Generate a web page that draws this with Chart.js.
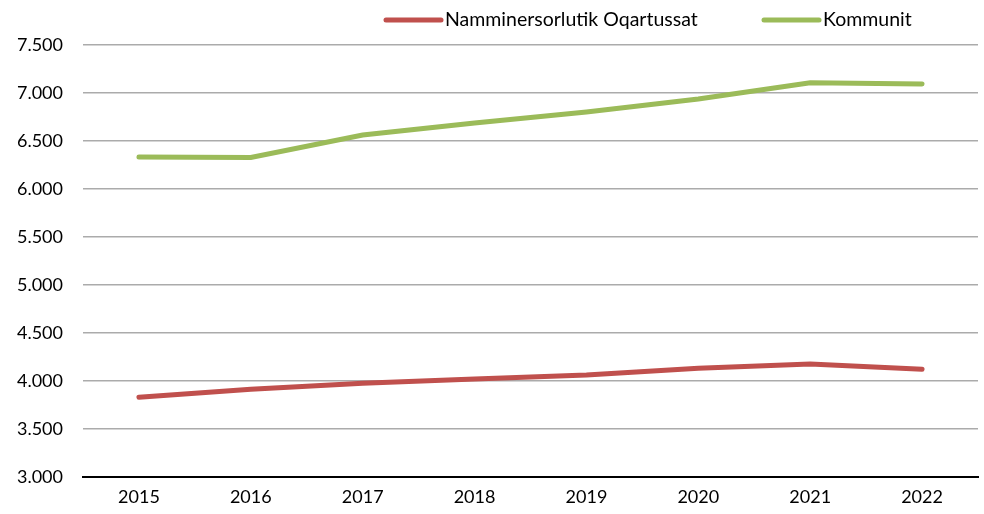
<!DOCTYPE html>
<html>
<head>
<meta charset="utf-8">
<script src="https://cdn.jsdelivr.net/npm/chart.js@4"></script>
<style>
  body { margin: 0; background: #fff; }
</style>
</head>
<body>
<canvas id="lineChart" width="984" height="514"></canvas>
<script>
const years = ['2015', '2016', '2017', '2018', '2019', '2020', '2021', '2022'];
const selvstyre = [3830, 3914, 3976, 4021, 4062, 4132, 4177, 4122];
const kommunit = [6333, 6328, 6563, 6688, 6802, 6937, 7107, 7094];
const seriesNames = ['Namminersorlutik Oqartussat', 'Kommunit'];

const FONT = 'Lato, "Open Sans", sans-serif';

// legend drawn by hand so the marker sits right against the text
const lineLegend = {
    id: 'lineLegend',
    afterDraw(chart) {
        const ctx = chart.ctx;
        const items = [
            { x: 386, ds: chart.data.datasets[0] },
            { x: 764, ds: chart.data.datasets[1] }
        ];
        ctx.save();
        ctx.font = '19.5px ' + FONT;
        ctx.textBaseline = 'middle';
        ctx.fillStyle = '#000';
        items.forEach(item => {
            ctx.strokeStyle = item.ds.borderColor;
            ctx.lineWidth = 5;
            ctx.lineCap = 'round';
            ctx.beginPath();
            ctx.moveTo(item.x, 20);
            ctx.lineTo(item.x + 55, 20);
            ctx.stroke();
            ctx.fillText(item.ds.label, item.x + 59, 20);
        });
        ctx.restore();
    }
};

const ctx = document.getElementById('lineChart').getContext('2d');
new Chart(ctx, {
    type: 'line',
    data: {
        labels: years,
        datasets: [{
            label: seriesNames[0],
            data: selvstyre,
            borderColor: '#C0504D',
            backgroundColor: '#C0504D',
            borderWidth: 5,
            borderCapStyle: 'round',
            pointRadius: 0,
            tension: 0
        }, {
            label: seriesNames[1],
            data: kommunit,
            borderColor: '#9BBB59',
            backgroundColor: '#9BBB59',
            borderWidth: 5,
            borderCapStyle: 'round',
            pointRadius: 0,
            tension: 0
        }]
    },
    options: {
        responsive: false,
        animation: false,
        layout: {
            padding: { top: 45, right: 6, left: 0, bottom: 0 }
        },
        scales: {
            x: {
                offset: true,
                grid: { display: false, drawTicks: false },
                border: { color: '#000', width: 2 },
                ticks: {
                    color: '#000',
                    font: { family: FONT, size: 18 },
                    padding: 9,
                    maxRotation: 0
                },
                afterFit: scale => { scale.height = 37; }
            },
            y: {
                min: 3000,
                max: 7500,
                grid: { color: '#ababab', lineWidth: 1.5, drawTicks: false },
                border: { display: false },
                ticks: {
                    stepSize: 500,
                    color: '#000',
                    padding: 20,
                    font: { family: FONT, size: 18 },
                    callback: v => v.toLocaleString('de-DE', { minimumFractionDigits: 0 })
                },
                afterFit: scale => { scale.width = 83; }
            }
        },
        plugins: {
            legend: { display: false },
            tooltip: { enabled: false }
        }
    },
    plugins: [lineLegend]
});
</script>
</body>
</html>
